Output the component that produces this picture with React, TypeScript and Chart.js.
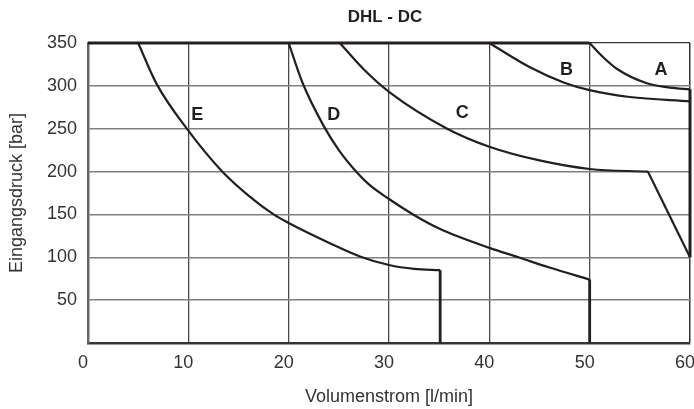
import React, { useEffect, useRef } from 'react';
import { Chart, registerables } from 'chart.js';

Chart.register(...registerables);

// ---- data ----
const chartTitle = 'DHL - DC';
const xTitle = 'Volumenstrom [l/min]';
const yTitle = 'Eingangsdruck [bar]';
const xTicks = [0, 10, 20, 30, 40, 50, 60];
const yTicks = [50, 100, 150, 200, 250, 300, 350];

const maxPressure = [{ x: 0, y: 350 }, { x: 50, y: 350 }];
const curveA = [
  { x: 50, y: 350 }, { x: 51.3, y: 334 }, { x: 52.7, y: 320 }, { x: 55.7, y: 303 },
  { x: 58, y: 298 }, { x: 60, y: 296 },
];
const curveB = [
  { x: 40, y: 350 }, { x: 44, y: 322 }, { x: 47.4, y: 304 }, { x: 50, y: 295 },
  { x: 54, y: 287 }, { x: 60, y: 282 },
];
const curveC = [
  { x: 25.1, y: 350 }, { x: 27.5, y: 319 }, { x: 30, y: 293 }, { x: 35.8, y: 250 },
  { x: 40, y: 229 }, { x: 45, y: 213 }, { x: 50, y: 203 }, { x: 55.8, y: 200 },
];
const curveD = [
  { x: 20, y: 350 }, { x: 21.4, y: 303 }, { x: 23.5, y: 253 }, { x: 25, y: 225 },
  { x: 26.5, y: 203 }, { x: 28, y: 185 }, { x: 30, y: 168 }, { x: 32.4, y: 150 },
  { x: 35.1, y: 133 }, { x: 40, y: 111 }, { x: 42.9, y: 100 }, { x: 46, y: 88 },
  { x: 50, y: 74 },
];
const curveE = [
  { x: 5, y: 350 }, { x: 6.85, y: 302 }, { x: 9.85, y: 250 }, { x: 13.3, y: 201 },
  { x: 16, y: 172 }, { x: 18.5, y: 150 }, { x: 20, y: 140 }, { x: 24, y: 117 },
  { x: 27.1, y: 101 }, { x: 30, y: 91 }, { x: 32.5, y: 86.5 }, { x: 35.1, y: 85 },
];
const dropC = [{ x: 55.8, y: 200 }, { x: 60, y: 100 }];
const rightLimit = [{ x: 60, y: 296 }, { x: 60, y: 100 }];
const dropD = [{ x: 50, y: 74 }, { x: 50, y: 0 }];
const dropE = [{ x: 35.1, y: 85 }, { x: 35.1, y: 0 }];

const curveNames = ['A', 'B', 'C', 'D', 'E'];
const nameX = [57.1, 47.7, 37.3, 24.5, 10.9];
const nameY = [319, 319, 268, 266, 266];

const FONT = '"Liberation Sans", Arial, Helvetica, sans-serif';
const INK = '#231f20';

export default function App() {
  const ref = useRef<HTMLCanvasElement | null>(null);

  useEffect(() => {
    if (!ref.current) return;

    const textPlugin = {
      id: 'curveText',
      afterDatasetsDraw(chart: any) {
        const { ctx, chartArea, scales } = chart;
        ctx.save();
        ctx.fillStyle = INK;
        ctx.textAlign = 'center';
        ctx.textBaseline = 'middle';
        ctx.font = `bold 18px ${FONT}`;
        curveNames.forEach((n, i) => {
          ctx.fillText(n, scales.x.getPixelForValue(nameX[i]), scales.y.getPixelForValue(nameY[i]));
        });
        ctx.font = `bold 17px ${FONT}`;
        ctx.fillText(chartTitle, (chartArea.left + chartArea.right) / 2 - 4, 17);
        ctx.restore();
      },
    };

    const curve = (data: any[]) => ({
      data,
      showLine: true,
      borderColor: INK,
      borderWidth: 2.2,
      pointRadius: 0,
      cubicInterpolationMode: 'monotone',
      clip: false as any,
    });
    const straight = (data: any[], w: number) => ({
      data,
      showLine: true,
      borderColor: INK,
      borderWidth: w,
      pointRadius: 0,
      tension: 0,
      clip: false as any,
    });

    const chart = new Chart(ref.current, {
      type: 'scatter',
      data: {
        datasets: [
          straight(maxPressure, 3),
          curve(curveA),
          curve(curveB),
          curve(curveC),
          curve(curveD),
          curve(curveE),
          straight(dropC, 2.2),
          straight(rightLimit, 3),
          straight(dropD, 2.8),
          straight(dropE, 2.8),
        ] as any,
      },
      options: {
        animation: false,
        responsive: false,
        layout: { padding: { top: 43, left: 0, right: 4, bottom: 0 } },
        plugins: {
          legend: { display: false },
          tooltip: { enabled: false },
          title: { display: false },
        },
        scales: {
          x: {
            type: 'linear',
            min: 0,
            max: 60,
            afterBuildTicks: (s: any) => {
              s.ticks = xTicks.map((v) => ({ value: v }));
            },
            afterFit: (s: any) => {
              s.height = 66;
              s.paddingLeft = 0;
              s.paddingRight = 0;
            },
            grid: {
              drawTicks: false,
              color: (c: any) => (c.tick && c.tick.value === 60 ? '#333' : '#4a4a4a'),
              lineWidth: (c: any) => (c.tick && c.tick.value === 60 ? 1.5 : 1.3),
            },
            border: { color: '#333', width: 2.5 },
            ticks: {
              padding: 9,
              labelOffset: -5,
              maxRotation: 0,
              autoSkip: false,
              color: '#333',
              font: { size: 18, family: FONT },
            },
            title: {
              display: true,
              text: xTitle,
              color: '#333',
              font: { size: 18, family: FONT },
              padding: { top: 0, bottom: 1 },
            },
          },
          y: {
            min: 0,
            max: 350,
            afterBuildTicks: (s: any) => {
              s.ticks = yTicks.map((v) => ({ value: v }));
            },
            afterFit: (s: any) => {
              s.width = 88;
              s.paddingTop = 0;
              s.paddingBottom = 0;
            },
            grid: {
              drawTicks: false,
              color: (c: any) => (c.tick && c.tick.value === 350 ? '#333' : '#808080'),
              lineWidth: (c: any) => (c.tick && c.tick.value === 350 ? 1.3 : 1.5),
            },
            border: { color: '#666', width: 2.5 },
            ticks: {
              padding: 11,
              color: '#333',
              font: { size: 18, family: FONT },
            },
            title: {
              display: true,
              text: yTitle,
              color: '#333',
              font: { size: 18, family: FONT },
              padding: { top: 6, bottom: 0 },
            },
          },
        },
      } as any,
      plugins: [textPlugin],
    });

    return () => chart.destroy();
  }, []);

  return (
    <div style={{ position: 'absolute', left: 0, top: 0, width: 694, height: 409, background: '#fff' }}>
      <canvas ref={ref} width={694} height={409} style={{ display: 'block' }} />
    </div>
  );
}
